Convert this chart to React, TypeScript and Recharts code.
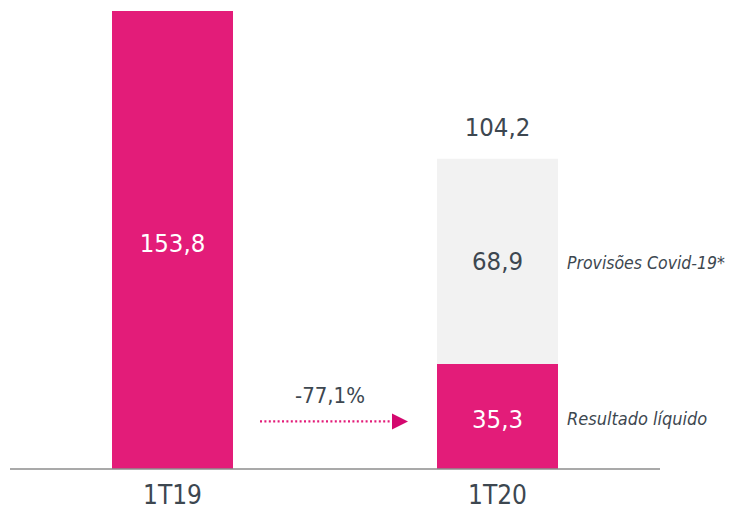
import React from "react";
import { BarChart, Bar, XAxis, YAxis, LabelList } from "recharts";

const categories = ["1T19", "1T20"];
const resultado = [153.8, 35.3];
const provisoes = [0, 68.9];
const variacao = "-77,1%";
const nomeResultado = "Resultado líquido";
const nomeProvisoes = "Provisões Covid-19*";

const PINK = "#e31c79";
const GREY = "#f2f2f2";
const TEXT = "#3d4750";
const FONT = "'DejaVu Sans Condensed', 'DejaVu Sans', sans-serif";

const data = categories.map((name, i) => ({
  name,
  resultado: resultado[i],
  provisoes: provisoes[i],
  total: resultado[i] + provisoes[i],
}));

const fmt = (v: number) => v.toFixed(1).replace(".", ",");

function ResultadoLabel(props: any) {
  const { x, y, width, height, value } = props;
  const cx = x + width / 2;
  const cy = y + height / 2;
  const entry = data.find((d) => d.resultado === value);
  const stacked = entry != null && entry.provisoes > 0;
  return (
    <g>
      <text x={cx} y={cy + 3} fill="#fff" fontSize={25.5} fontFamily={FONT} textAnchor="middle" dominantBaseline="central">
        {fmt(value)}
      </text>
      {stacked && (
        <g>
          <text x={x + width + 9} y={cy + 2} fill={TEXT} fontSize={18} fontStyle="italic" fontFamily={FONT} dominantBaseline="central">
            {nomeResultado}
          </text>
          <line x1={x - 177} x2={x - 45} y1={cy + 5} y2={cy + 5} stroke={PINK} strokeWidth={2.2} strokeDasharray="2 2.4" />
          <polygon points={`${x - 45},${cy - 3} ${x - 29},${cy + 5} ${x - 45},${cy + 13}`} fill="#d4086f" />
          <text x={x - 107} y={cy - 13} fill={TEXT} fontSize={22} fontFamily={FONT} textAnchor="middle">
            {variacao}
          </text>
        </g>
      )}
    </g>
  );
}

function ProvisoesLabel(props: any) {
  const { x, y, width, height, value } = props;
  if (!value) return null;
  const entry = data.find((d) => d.provisoes === value);
  const cx = x + width / 2;
  const cy = y + height / 2;
  return (
    <g>
      <text x={cx} y={cy} fill={TEXT} fontSize={25.5} fontFamily={FONT} textAnchor="middle" dominantBaseline="central">
        {fmt(value)}
      </text>
      {entry && (
        <text x={cx} y={y - 23} fill={TEXT} fontSize={25.5} fontFamily={FONT} textAnchor="middle">
          {fmt(entry.total)}
        </text>
      )}
      <text x={x + width + 9} y={cy + 2} fill={TEXT} fontSize={17.5} fontStyle="italic" fontFamily={FONT} dominantBaseline="central">
        {nomeProvisoes}
      </text>
    </g>
  );
}

function Tick(props: any) {
  const { x, y, payload } = props;
  return (
    <text x={x} y={y + 27} fill={TEXT} fontSize={26} fontFamily={FONT} textAnchor="middle">
      {payload.value}
    </text>
  );
}

export default function App() {
  return (
    <div style={{ position: "absolute", top: 0, left: 0, background: "#fff" }}>
      <BarChart width={731} height={509} data={data} margin={{ top: 11, right: 71, bottom: 0, left: 10 }}>
        <XAxis
          dataKey="name"
          height={40}
          tickLine={false}
          axisLine={{ stroke: "#8c8c8c", strokeWidth: 1.5 }}
          tick={<Tick />}
          interval={0}
        />
        <YAxis hide domain={[0, 153.8]} />
        <Bar dataKey="resultado" stackId="a" fill={PINK} barSize={121} isAnimationActive={false}>
          <LabelList dataKey="resultado" content={<ResultadoLabel />} />
        </Bar>
        <Bar dataKey="provisoes" stackId="a" fill={GREY} barSize={121} isAnimationActive={false}>
          <LabelList dataKey="provisoes" content={<ProvisoesLabel />} />
        </Bar>
      </BarChart>
    </div>
  );
}
